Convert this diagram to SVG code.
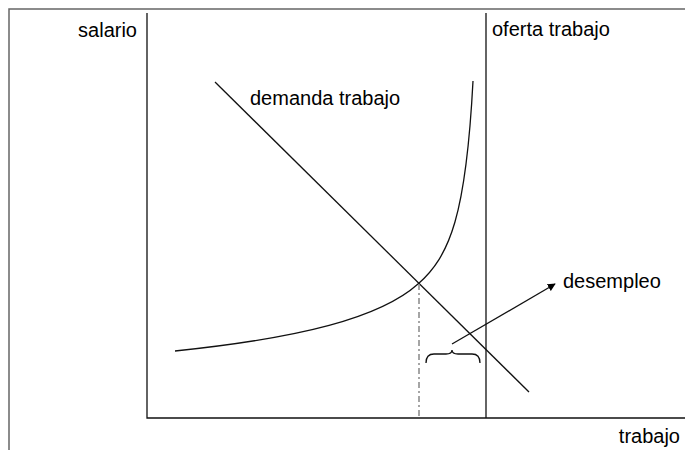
<svg xmlns="http://www.w3.org/2000/svg" width="685" height="450" viewBox="0 0 685 450">
<style>
.lbl{font-family:"Liberation Sans",Arial,sans-serif;font-size:20px;fill:#000}
.ln{fill:none;stroke:#111;stroke-width:1.3}
.frame{fill:none;stroke:#666;stroke-width:1.5}
</style>
<defs>
<marker id="ah" viewBox="0 0 10 10" refX="9" refY="5" markerWidth="8" markerHeight="8" markerUnits="userSpaceOnUse" orient="auto">
<path d="M0,0 L10,5 L0,10 z" fill="#000"/>
</marker>
</defs>
<rect width="685" height="450" fill="#fff"/>
<g id="frame">
<path class="frame" d="M9,450 L9,9 L685,9"/>
</g>
<g id="axes">
<path class="ln" d="M147,13 L147,418 L685,418" stroke="#444"/>
</g>
<g id="connectors">
<path id="oferta" class="ln" d="M486,13 L486,418"/>
<path id="demanda" class="ln" d="M215,82 L529,392"/>
<path id="curva" class="ln" d="M175,351 C300,338 380,318 418,284 C450,256 466,215 473,81"/>
<path id="guia" d="M419,284 L419,418" fill="none" stroke="#888" stroke-width="1.5" stroke-dasharray="6,3,2,3"/>
<path id="llave" class="ln" d="M426,363 Q426,354 434,354 L446,354 Q452,354 452,350 Q452,354 458,354 L472,354 Q480,354 480,363"/>
<path id="flecha" class="ln" d="M452,344 L555,284" marker-end="url(#ah)"/>
</g>
<g id="labels">
<text id="salario" class="lbl" x="137" y="37" text-anchor="end">salario</text>
<text id="oferta-lbl" class="lbl" x="492" y="36">oferta trabajo</text>
<text id="demanda-lbl" class="lbl" x="250" y="105">demanda trabajo</text>
<text id="desempleo" class="lbl" x="563" y="288">desempleo</text>
<text id="trabajo" class="lbl" x="680" y="443" text-anchor="end">trabajo</text>
</g>
</svg>
